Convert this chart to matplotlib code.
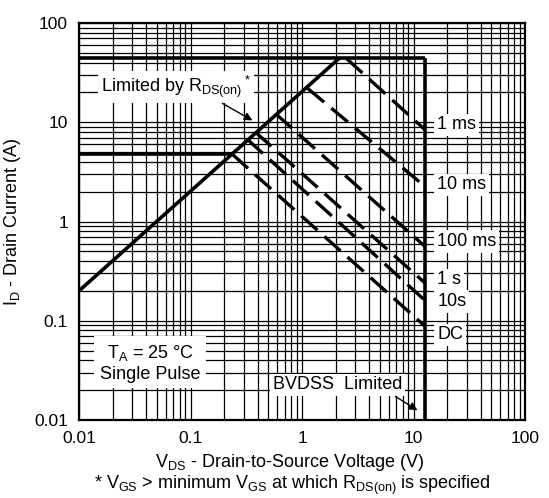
import matplotlib
matplotlib.use("Agg")
import matplotlib.pyplot as plt
from matplotlib.ticker import LogLocator, FuncFormatter, NullFormatter

plt.rcParams['font.family'] = ['Liberation Sans', 'DejaVu Sans']
plt.rcParams['mathtext.default'] = 'regular'

# boundary lines (V, A)
id_max = 44.0          # pulsed current limit
id_cont = 4.8          # continuous current limit
bvdss = 12.7           # breakdown voltage limit
rds_v = [0.01, 2.15]   # R_DS(on) limit line
rds_i = [0.2, 44.0]

# pulse-width curves: start on the limit lines, end on the BVDSS line
pulse_names = ['1 ms', '10 ms', '100 ms', '1 s', '10s', 'DC']
pulse_start_v = [2.5, 1.12, 0.58, 0.38, 0.32, 0.235]
pulse_start_i = [44.0, 22.0, 12.2, 8.0, 6.8, 4.8]
pulse_end_i = [8.4, 2.25, 0.56, 0.24, 0.16, 0.088]
label_i = [9.4, 2.34, 0.63, 0.258, 0.156, 0.072]

fig = plt.figure(figsize=(5.49, 4.98), dpi=100)
ax = fig.add_axes([0.1439, 0.1566, 0.8124, 0.7972])
ax.set_xscale('log')
ax.set_yscale('log')
ax.set_xlim(0.01, 100)
ax.set_ylim(0.01, 100)

for axis in (ax.xaxis, ax.yaxis):
    axis.set_major_locator(LogLocator(base=10))
    axis.set_minor_locator(LogLocator(base=10, subs=range(2, 10)))
    axis.set_major_formatter(FuncFormatter(lambda v, p: '%g' % v))
    axis.set_minor_formatter(NullFormatter())
ax.grid(True, which='both', color='black', lw=0.9)
ax.tick_params(which='both', length=0, labelsize=12.5, pad=8)
for s in ax.spines.values():
    s.set_linewidth(1.6)

thick = dict(color='black', lw=2.6, solid_capstyle='butt')
ax.plot([0.01, bvdss], [id_max, id_max], **thick)
ax.plot([bvdss, bvdss], [0.01, id_max], **thick)
ax.plot([0.01, rds_v[1] * id_cont / id_max], [id_cont, id_cont], **thick)
ax.plot(rds_v, rds_i, **thick)

for v0, i0, i1 in zip(pulse_start_v, pulse_start_i, pulse_end_i):
    ax.plot([v0, bvdss], [i0, i1], color='black', lw=2.4,
            linestyle=(0, (6.5, 2.8)), dash_capstyle='butt')

box = dict(facecolor='white', edgecolor='none', pad=2)
for name, yi in zip(pulse_names, label_i):
    ax.text(16.3, yi, name, fontsize=13, ha='left', va='center',
            bbox=box, zorder=5)

ax.text(0.074, 22.7, 'Limited by R$_{DS(on)}$$^*$', fontsize=13,
        ha='center', va='center', bbox=box, zorder=5)
ax.annotate('', xy=(0.378, 10.1), xytext=(0.184, 16.0),
            arrowprops=dict(arrowstyle='-|>', color='black', lw=1,
                            mutation_scale=12), zorder=6)

ax.text(0.0434, 0.0377, 'T$_A$ = 25 \u00b0C\nSingle Pulse', fontsize=13,
        ha='center', va='center', multialignment='center',
        bbox=dict(facecolor='white', edgecolor='none', pad=4), zorder=5)

ax.text(2.08, 0.0226, 'BVDSS  Limited', fontsize=13, ha='center',
        va='center', bbox=box, zorder=5)
ax.annotate('', xy=(11.4, 0.0121), xytext=(6.55, 0.0179),
            arrowprops=dict(arrowstyle='-|>', color='black', lw=1,
                            mutation_scale=12), zorder=6)

ax.set_ylabel('I$_D$ - Drain Current (A)', fontsize=13, labelpad=8)
fig.text(0.528, 0.072, 'V$_{DS}$ - Drain-to-Source Voltage (V)',
         fontsize=13, ha='center', va='center')
fig.text(0.533, 0.026, '* V$_{GS}$ > minimum V$_{GS}$ at which R$_{DS(on)}$ is specified',
         fontsize=13, ha='center', va='center')

fig.savefig('out.png', dpi=100)
